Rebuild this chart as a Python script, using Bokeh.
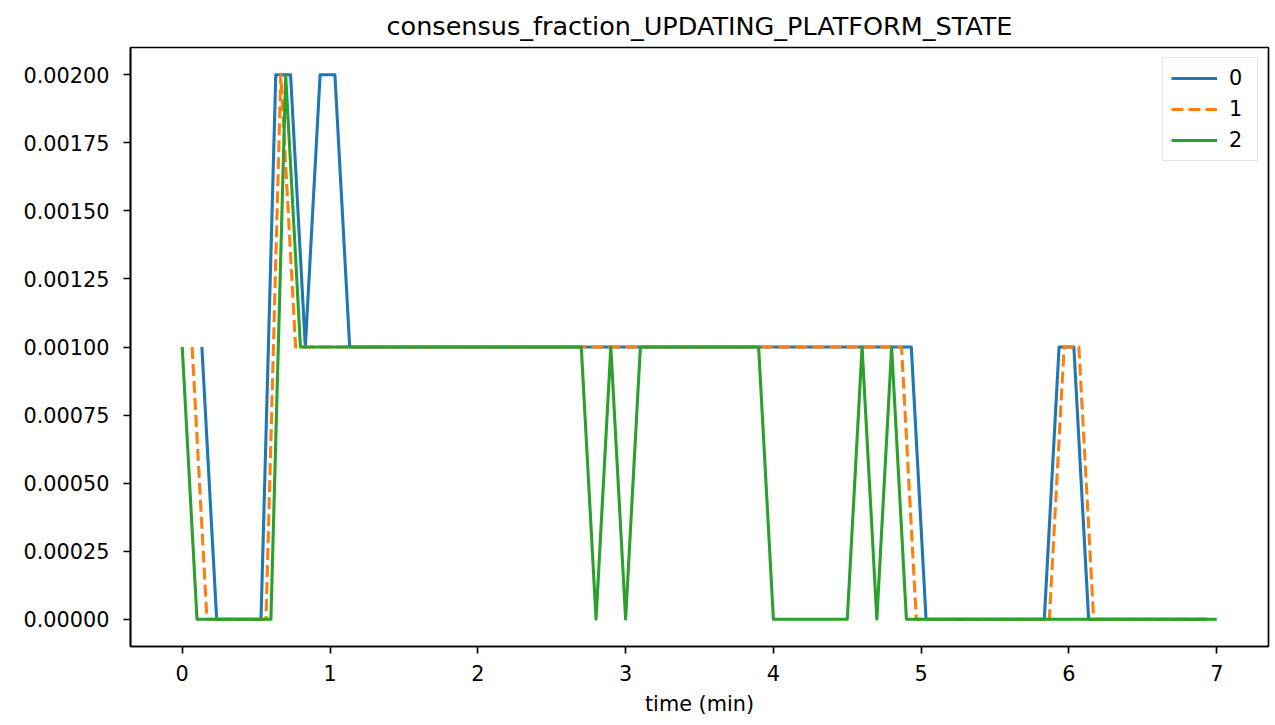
from bokeh.plotting import figure
from bokeh.models import Range1d, FixedTicker
from bokeh.embed import file_html
from bokeh.resources import INLINE

# ---- data (time in minutes, fraction) ----
t0 = [0.133, 0.233, 0.533, 0.633, 0.733, 0.833, 0.933, 1.033, 1.133, 4.933, 5.033, 5.833, 5.933, 6.033, 6.133, 6.933]
v0 = [0.001, 0.0, 0.0, 0.002, 0.002, 0.001, 0.002, 0.002, 0.001, 0.001, 0.0, 0.0, 0.001, 0.001, 0.0, 0.0]

t1 = [0.067, 0.167, 0.567, 0.667, 0.767, 4.867, 4.967, 5.867, 5.967, 6.067, 6.167, 6.967]
v1 = [0.001, 0.0, 0.0, 0.002, 0.001, 0.001, 0.0, 0.0, 0.001, 0.001, 0.0, 0.0]

t2 = [0.0, 0.1, 0.6, 0.7, 0.8, 2.7, 2.8, 2.9, 3.0, 3.1, 3.9, 4.0, 4.5, 4.6, 4.7, 4.8, 4.9, 7.0]
v2 = [0.001, 0.0, 0.0, 0.002, 0.001, 0.001, 0.0, 0.001, 0.0, 0.001, 0.001, 0.0, 0.0, 0.001, 0.0, 0.001, 0.0, 0.0]

series_labels = ["0", "1", "2"]
x_ticks = [0, 1, 2, 3, 4, 5, 6, 7]
y_ticks = [0.0, 0.00025, 0.0005, 0.00075, 0.001, 0.00125, 0.0015, 0.00175, 0.002]
y_tick_labels = ["0.00000", "0.00025", "0.00050", "0.00075", "0.00100",
                 "0.00125", "0.00150", "0.00175", "0.00200"]
title_text = "consensus_fraction_UPDATING_PLATFORM_STATE"
x_label = "time (min)"

FONT = "DejaVu Sans"
TICK_FS = "20.8px"

p = figure(width=1270, height=721,
           x_range=Range1d(-0.35, 7.35), y_range=Range1d(-0.0001, 0.0021),
           output_backend="svg", toolbar_location=None,
           min_border_left=130, min_border_right=2,
           min_border_top=47, min_border_bottom=75)

p.title.text = title_text
p.title.text_font = FONT
p.title.text_font_size = "25.5px"
p.title.text_font_style = "normal"
p.title.align = "center"
p.title.text_color = "black"
p.title.standoff = 14

p.xgrid.visible = False
p.ygrid.visible = False
p.outline_line_color = "black"
p.outline_line_width = 1.67
p.outline_line_alpha = 1.0

colors = ["#1f77b4", "#ff7f0e", "#2ca02c"]
p.line(t0, v0, line_color=colors[0], line_width=3.1, line_join="round", legend_label=series_labels[0])
p.line(t1, v1, line_color=colors[1], line_width=3.1, line_dash="12 5", line_join="round", legend_label=series_labels[1])
p.line(t2, v2, line_color=colors[2], line_width=3.1, line_join="round", legend_label=series_labels[2])

for ax in (p.xaxis[0], p.yaxis[0]):
    ax.axis_line_color = "black"
    ax.axis_line_width = 1.67
    ax.major_tick_line_color = "black"
    ax.major_tick_line_width = 1.67
    ax.major_tick_in = 0
    ax.major_tick_out = 7
    ax.minor_tick_line_color = None
    ax.major_label_text_font = FONT
    ax.major_label_text_font_size = TICK_FS
    ax.major_label_text_color = "black"

p.xaxis[0].major_label_standoff = 11
p.yaxis[0].major_label_standoff = 14
p.xaxis[0].ticker = FixedTicker(ticks=x_ticks)
p.yaxis[0].ticker = FixedTicker(ticks=y_ticks)
p.yaxis[0].major_label_overrides = {tk: lb for tk, lb in zip(y_ticks, y_tick_labels)}
p.xaxis[0].axis_label = x_label
p.xaxis[0].axis_label_text_font = FONT
p.xaxis[0].axis_label_text_font_size = TICK_FS
p.xaxis[0].axis_label_text_font_style = "normal"
p.xaxis[0].axis_label_text_color = "black"
p.xaxis[0].axis_label_standoff = 8

lg = p.legend[0]
lg.location = "top_right"
lg.margin = 10
lg.padding = 8
lg.spacing = 7
lg.glyph_width = 46
lg.glyph_height = 20
lg.label_height = 20
lg.label_standoff = 12
lg.label_text_font = FONT
lg.label_text_font_size = TICK_FS
lg.label_text_color = "black"
lg.border_line_color = "#cccccc"
lg.border_line_width = 1.67
lg.background_fill_color = "white"
lg.background_fill_alpha = 0.8

open("out.html", "w").write(file_html(p, INLINE))
